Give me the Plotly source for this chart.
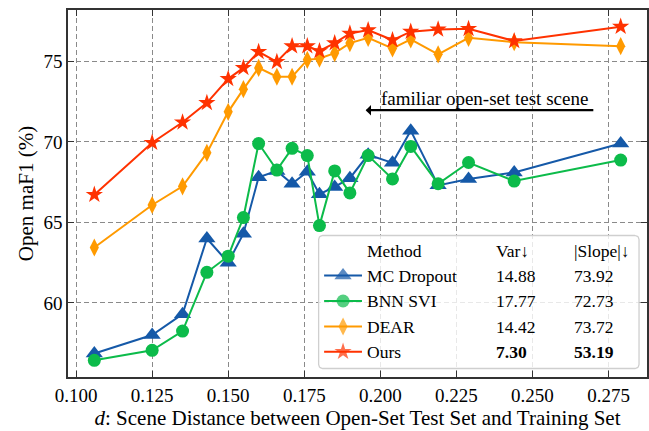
import numpy as np
import plotly.graph_objects as go

# ---------------- data ----------------
distance = [0.106, 0.125, 0.135, 0.143, 0.150, 0.155, 0.160, 0.166, 0.171, 0.176,
            0.180, 0.185, 0.190, 0.196, 0.204, 0.210, 0.219, 0.229, 0.244, 0.279]

mc_dropout = [56.85, 58.0, 59.3, 64.0, 62.5, 64.3, 67.8, 68.2, 67.4, 68.15,
              66.75, 67.2, 67.75, 69.2, 68.7, 70.7, 67.3, 67.7, 68.1, 69.9]
bnn_svi = [56.43, 57.05, 58.25, 61.9, 62.9, 65.3, 69.9, 68.25, 69.6, 69.15,
           64.8, 68.2, 66.83, 69.15, 67.7, 69.72, 67.4, 68.72, 67.57, 68.87]
dear = [63.44, 66.08, 67.24, 69.32, 71.87, 73.28, 74.6, 74.05, 74.05, 75.1,
        75.18, 75.52, 76.14, 76.47, 75.81, 76.37, 75.44, 76.47, 76.2, 75.95]
ours = [66.72, 69.95, 71.22, 72.43, 73.92, 74.6, 75.6, 74.98, 75.95, 75.95,
        75.65, 76.14, 76.74, 76.95, 76.33, 76.85, 76.99, 77.03, 76.27, 77.16]

methods = ["MC Dropout", "BNN SVI", "DEAR", "Ours"]
series = [mc_dropout, bnn_svi, dear, ours]
variance = ["14.88", "17.77", "14.42", "7.30"]
slope = ["73.92", "72.73", "73.72", "53.19"]

x_ticks = [0.100, 0.125, 0.150, 0.175, 0.200, 0.225, 0.250, 0.275]
y_ticks = [60, 65, 70, 75]

# ---------------- styling ----------------
colors = ["#1559a8", "#0cbb4a", "#ff9a00", "#ff3200"]
symbols = ["triangle-up", "circle", "diamond-tall", "star"]
sizes = [15, 13, 13, 13]
FONT = "'Liberation Serif', 'Times New Roman', 'DejaVu Serif', serif"

W, H = 649, 431
L, R, T, B = 68, 649, 10, 377          # plot-area edges in pixels

# axis limits with 5% padding around the data
xmin, xmax = min(distance), max(distance)
xpad = 0.05 * (xmax - xmin)
all_y = np.concatenate([np.array(s) for s in series])
ymin, ymax = all_y.min(), all_y.max()
ypad = 0.05 * (ymax - ymin)

fig = go.Figure()

for name, vals, c, sym, sz in zip(methods, series, colors, symbols, sizes):
    fig.add_trace(go.Scatter(
        x=distance, y=vals, mode="lines+markers", name=name,
        line=dict(color=c, width=2),
        marker=dict(color=c, symbol=sym, size=sz, line=dict(width=0)),
        showlegend=False,
    ))

# ---------------- table-style legend (pixel overlay axes) ----------------
def rounded_box(x0, y0, x1, y1, r=4, n=6):
    xs, ys = [], []
    corners = [(x1 - r, y0 + r, -90, 0), (x1 - r, y1 - r, 0, 90),
               (x0 + r, y1 - r, 90, 180), (x0 + r, y0 + r, 180, 270)]
    for cx, cy, a0, a1 in corners:
        for a in np.linspace(np.radians(a0), np.radians(a1), n):
            xs.append(cx + r * np.cos(a))
            ys.append(cy + r * np.sin(a))
    xs.append(xs[0]); ys.append(ys[0])
    return xs, ys

bx, by = rounded_box(319.5, 235.5, 641, 368.5)
fig.add_trace(go.Scatter(
    x=bx, y=by, xaxis="x2", yaxis="y2", mode="lines", fill="toself",
    fillcolor="rgba(255,255,255,0.8)", line=dict(color="#cfcfcf", width=1.3),
    hoverinfo="skip", showlegend=False,
))

row_y = [275.5, 301.0, 326.5, 351.7]
header_y = 250.7
col_method, col_var, col_slope = 366, 495.5, 573.3
sample_x0, sample_x1 = 325, 363

for name, c, sym, sz, ry in zip(methods, colors, symbols, sizes, row_y):
    fig.add_trace(go.Scatter(
        x=[sample_x0, (sample_x0 + sample_x1) / 2, sample_x1], y=[ry, ry, ry],
        xaxis="x2", yaxis="y2", mode="lines+markers",
        line=dict(color=c, width=2),
        marker=dict(color=c, symbol=sym, size=[0, sz, 0], line=dict(width=0)),
        hoverinfo="skip", showlegend=False,
    ))

legend_font = dict(family=FONT, size=17.5, color="black")
annotations = []
for txt, xx in [("Method", col_method), ("Var↓", col_var), ("|Slope|↓", col_slope)]:
    annotations.append(dict(x=xx, y=header_y, xref="x2", yref="y2", text=txt,
                            showarrow=False, xanchor="left", yanchor="middle",
                            font=legend_font))
for i, (name, v, s, ry) in enumerate(zip(methods, variance, slope, row_y)):
    best = i == len(methods) - 1
    vt = f"<b>{v}</b>" if best else v
    st = f"<b>{s}</b>" if best else s
    for txt, xx in [(name, col_method), (vt, col_var), (st, col_slope)]:
        annotations.append(dict(x=xx, y=ry, xref="x2", yref="y2", text=txt,
                                showarrow=False, xanchor="left", yanchor="middle",
                                font=legend_font))

# ---------------- "familiar open-set test scene" marker ----------------
annotations.append(dict(x=0.2342, y=72.69, xref="x", yref="y",
                        text="familiar open-set test scene", showarrow=False,
                        xanchor="center", yanchor="middle",
                        font=dict(family=FONT, size=19, color="black")))
annotations.append(dict(x=0.1952, y=71.97, ax=0.2705, ay=71.97,
                        xref="x", yref="y", axref="x", ayref="y",
                        text="", showarrow=True, arrowhead=1, arrowsize=0.8,
                        arrowwidth=2.2, arrowcolor="black", standoff=0,
                        startstandoff=0))

axis_common = dict(
    showline=True, linecolor="#333333", linewidth=1.5, mirror="ticks",
    ticks="inside", ticklen=6, tickwidth=1, tickcolor="#333333",
    showgrid=True, gridcolor="#8a8a8a", gridwidth=1, griddash="5px,3px",
    zeroline=False, tickfont=dict(family=FONT, size=19, color="black"),
)

fig.update_layout(
    width=W, height=H,
    margin=dict(l=L, r=W - R, t=T, b=H - B, pad=0),
    plot_bgcolor="white", paper_bgcolor="white",
    font=dict(family=FONT, color="black"),
    xaxis=dict(range=[xmin - xpad, xmax + xpad], tickvals=x_ticks,
               ticktext=[f"{t:.3f}" for t in x_ticks],
               title=dict(text="<i>d</i>: Scene Distance between Open-Set Test Set and Training Set",
                          font=dict(family=FONT, size=21, color="black"), standoff=6),
               **axis_common),
    yaxis=dict(range=[ymin - ypad, ymax + ypad], tickvals=y_ticks,
               ticktext=[str(t) for t in y_ticks],
               title=dict(text="Open maF1 (%)",
                          font=dict(family=FONT, size=21, color="black"), standoff=4),
               **axis_common),
    xaxis2=dict(range=[L, R], overlaying="x", visible=False, fixedrange=True),
    yaxis2=dict(range=[B, T], overlaying="y", visible=False, fixedrange=True),
    annotations=annotations,
    showlegend=False,
)

fig.write_html("out.html")
